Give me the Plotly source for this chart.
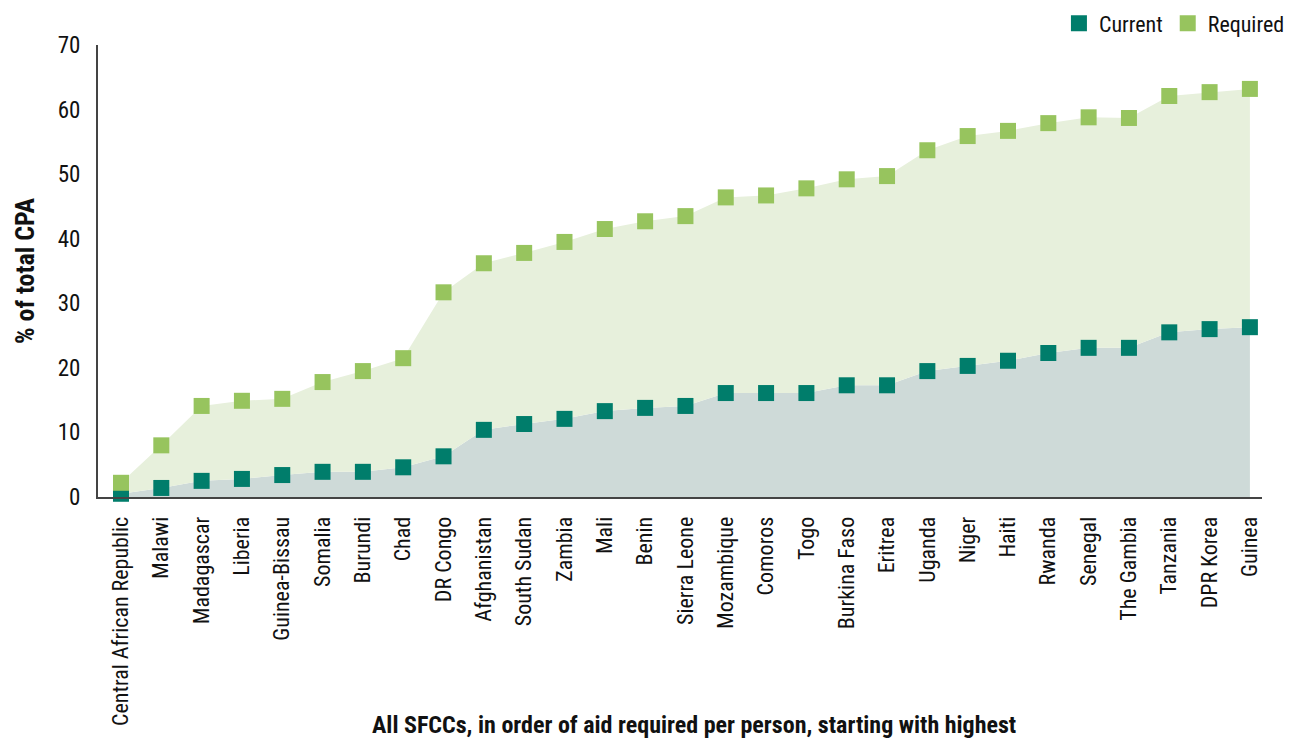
import plotly.graph_objects as go

countries = ["Central African Republic", "Malawi", "Madagascar", "Liberia", "Guinea-Bissau",
             "Somalia", "Burundi", "Chad", "DR Congo", "Afghanistan", "South Sudan", "Zambia",
             "Mali", "Benin", "Sierra Leone", "Mozambique", "Comoros", "Togo", "Burkina Faso",
             "Eritrea", "Uganda", "Niger", "Haiti", "Rwanda", "Senegal", "The Gambia",
             "Tanzania", "DPR Korea", "Guinea"]

current = [0.5, 1.4, 2.5, 2.8, 3.4, 3.9, 3.9, 4.6, 6.3, 10.4, 11.3, 12.1, 13.3, 13.8, 14.1,
           16.1, 16.1, 16.1, 17.3, 17.3, 19.5, 20.3, 21.1, 22.3, 23.1, 23.1, 25.5, 26.0, 26.3]

required = [2.2, 8.0, 14.1, 14.9, 15.2, 17.8, 19.5, 21.5, 31.7, 36.2, 37.8, 39.5, 41.5, 42.7,
            43.5, 46.4, 46.7, 47.8, 49.2, 49.7, 53.7, 55.9, 56.7, 57.9, 58.8, 58.7, 62.1,
            62.7, 63.2]

y_ticks = [0, 10, 20, 30, 40, 50, 60, 70]

x_title = "All SFCCs, in order of aid required per person, starting with highest"
y_title = "% of total CPA"

FONT = "Roboto Condensed, Liberation Sans Narrow, sans-serif"
C_CUR = "#007D6B"
C_REQ = "#97C45E"

x = list(range(len(countries)))

fig = go.Figure()
# filled areas
fig.add_trace(go.Scatter(x=x, y=current, mode="lines", line=dict(width=0),
                         fill="tozeroy", fillcolor="#CEDAD8", showlegend=False, hoverinfo="skip"))
fig.add_trace(go.Scatter(x=x, y=required, mode="lines", line=dict(width=0),
                         fill="tonexty", fillcolor="#E7F0DC", showlegend=False, hoverinfo="skip"))
# markers
fig.add_trace(go.Scatter(x=x, y=current, mode="markers", name="Current",
                         marker=dict(symbol="square", size=16, color=C_CUR), cliponaxis=False))
fig.add_trace(go.Scatter(x=x, y=required, mode="markers", name="Required",
                         marker=dict(symbol="square", size=16, color=C_REQ), cliponaxis=False))

fig.add_annotation(text="<b>" + x_title + "</b>", xref="paper", yref="paper",
                   x=0.512, y=-0.504, xanchor="center", yanchor="middle", showarrow=False,
                   font=dict(family=FONT, size=24, color="#111"))

fig.update_layout(
    width=1298, height=738,
    margin=dict(l=90, r=44, t=37, b=249, autoexpand=False),
    paper_bgcolor="white", plot_bgcolor="white",
    font=dict(family=FONT, size=22, color="#111"),
    legend=dict(orientation="h", x=1.024, xanchor="right", y=1.0476, yanchor="middle",
                font=dict(family=FONT, size=22, color="#111"), itemsizing="trace",
                traceorder="normal", itemwidth=30),
    xaxis=dict(
        tickmode="array", tickvals=x, ticktext=countries, tickangle=-90,
        range=[-0.57, 28.3], showgrid=False, zeroline=False,
        showline=True, linecolor="#444", linewidth=2, ticks="",
        tickfont=dict(family=FONT, size=22, color="#111"),
        ticklabelstandoff=9,
    ),
    yaxis=dict(
        range=[0, 70], tickvals=y_ticks, showgrid=False, zeroline=False,
        showline=True, linecolor="#444", linewidth=2, ticks="",
        tickfont=dict(family=FONT, size=23, color="#111"),
        ticklabelstandoff=11,
        title=dict(text="<b>" + y_title + "</b>", font=dict(family=FONT, size=26, color="#111"),
                   standoff=16),
    ),
)

fig.write_html("out.html")
